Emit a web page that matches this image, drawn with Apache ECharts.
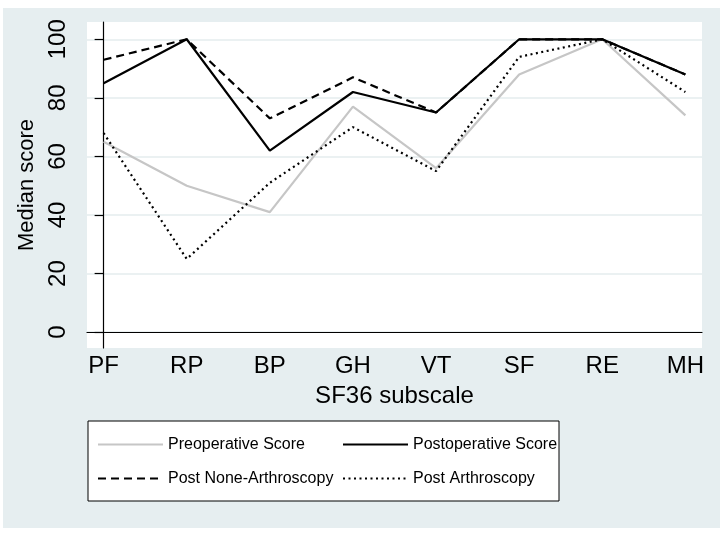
<!DOCTYPE html>
<html lang="en">
<head>
    <meta charset="UTF-8">
    <title>SF36 median scores</title>
    <style>
        html, body { margin: 0; padding: 0; background: #fff; }
        #root { width: 723px; height: 533px; }
    </style>
</head>
<body>
    <div id="root"></div>
    <script src="https://cdn.jsdelivr.net/npm/echarts@6/dist/echarts.min.js"></script>
    <script>
        // data
        var subscales = ["PF", "RP", "BP", "GH", "VT", "SF", "RE", "MH"];
        var yTicks = [0, 20, 40, 60, 80, 100];
        var preop = [65, 50, 41, 77, 56, 88, 100, 74];
        var postop = [85, 100, 62, 82, 75, 100, 100, 88];
        var postNone = [93, 100, 73, 87, 75, 100, 100, 88];
        var postArthro = [68, 25, 51, 70, 55, 94, 100, 82];

        var font = "Liberation Sans";

        function pairs(arr) {
            return arr.map(function (v, i) { return [i, v]; });
        }

        function lineSeries(name, values, color, type) {
            return {
                name: name,
                type: "line",
                data: pairs(values),
                symbol: "none",
                animation: false,
                lineStyle: { color: color, width: 2.2, type: type },
                itemStyle: { color: color }
            };
        }

        // one legend per row so the two columns line up
        function legendRow(top, names) {
            return {
                left: 97,
                top: top,
                padding: 0,
                itemGap: 5,
                itemWidth: 65,
                itemHeight: 14,
                itemStyle: { opacity: 0 },
                textStyle: { fontFamily: font, fontSize: 16, color: "#000", lineHeight: 29 },
                data: [
                    { name: names[0], textStyle: { width: 169 } },
                    { name: names[1] }
                ]
            };
        }

        var option = {
            animation: false,
            graphic: [
                {
                    type: "rect",
                    z: -10,
                    shape: { x: 3, y: 8, width: 717, height: 520 },
                    style: { fill: "#e6eef0" }
                },
                {
                    type: "rect",
                    z: -5,
                    shape: { x: 88, y: 421, width: 471, height: 80 },
                    style: { fill: "#fff", stroke: "#000", lineWidth: 1 }
                }
            ],
            grid: {
                left: 87,
                right: 21,
                top: 22,
                bottom: 185,
                show: true,
                backgroundColor: "#fff",
                borderWidth: 0
            },
            xAxis: {
                type: "value",
                min: -0.2,
                max: 7.2,
                name: "SF36 subscale",
                nameLocation: "middle",
                nameGap: 36,
                nameTextStyle: { fontFamily: font, fontSize: 24, color: "#000" },
                axisLine: { show: true, lineStyle: { color: "#000", width: 1.2 } },
                axisTick: { show: false, customValues: [0, 1, 2, 3, 4, 5, 6, 7] },
                splitLine: { show: false },
                axisLabel: {
                    customValues: [0, 1, 2, 3, 4, 5, 6, 7],
                    formatter: function (v) { return subscales[Math.round(v)]; },
                    fontFamily: font,
                    fontSize: 24,
                    color: "#000",
                    margin: 6
                }
            },
            yAxis: {
                type: "value",
                min: -5.4,
                max: 105.9,
                name: "Median score",
                nameLocation: "middle",
                nameRotate: 90,
                nameGap: 48,
                nameTextStyle: { fontFamily: font, fontSize: 22, color: "#000" },
                axisLine: { show: true, lineStyle: { color: "#000", width: 1.2 } },
                axisTick: {
                    show: true,
                    length: 9,
                    customValues: yTicks,
                    lineStyle: { color: "#000", width: 1.2 }
                },
                splitLine: { show: true, lineStyle: { color: "#e4ecee", width: 1.5 } },
                axisLabel: {
                    customValues: yTicks,
                    rotate: 90,
                    fontFamily: font,
                    fontSize: 24,
                    color: "#000",
                    margin: 17
                }
            },
            legend: [
                legendRow(430, ["Preoperative Score", "Postoperative Score"]),
                legendRow(464, ["Post None-Arthroscopy", "Post Arthroscopy"])
            ],
            series: [
                lineSeries("Preoperative Score", preop, "#c6c6c6", "solid"),
                lineSeries("Postoperative Score", postop, "#000", "solid"),
                lineSeries("Post None-Arthroscopy", postNone, "#000", [8, 5]),
                lineSeries("Post Arthroscopy", postArthro, "#000", [2, 3.5])
            ]
        };

        var instance = echarts.init(document.getElementById("root"));
        instance.setOption(option);
    </script>
</body>
</html>
